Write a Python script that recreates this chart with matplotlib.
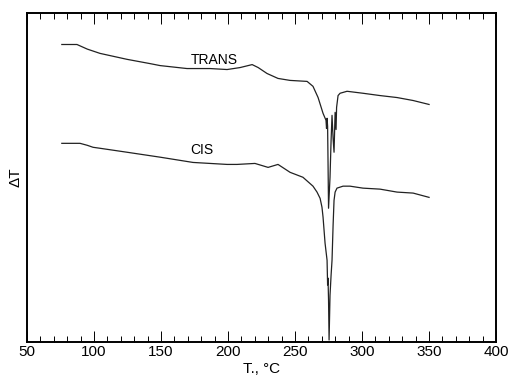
import matplotlib.pyplot as plt
from matplotlib.ticker import MultipleLocator

plt.rcParams["font.family"] = ["Liberation Sans", "DejaVu Sans"]

# DTA traces, temperature in degC, delta T in arbitrary units
trans_t = [76, 87.3, 95, 104.5, 124.6, 141.8, 149.3, 169.4, 186.6, 199.3, 209.0,
           218.0, 222.5, 229.1, 237.3, 246.3, 259.0, 263.4, 267.2, 270.9, 273.1,
           273.5, 273.9, 274.3, 274.6, 275.0, 276.1, 276.9, 277.6, 278.4, 279.1,
           279.9, 280.6, 281.0, 282.1, 283.6, 288.8, 300.7, 313.4, 326.1, 338.1,
           350]
trans_dt = [90.3, 90.3, 88.9, 87.6, 85.8, 84.5, 83.9, 83.0, 83.0, 82.7, 83.3,
            84.2, 83.3, 81.5, 80.0, 79.4, 79.1, 77.6, 74.2, 69.4, 67.3,
            64.8, 67.9, 65.5, 55.2, 40.6, 50.0, 61.2, 68.8, 61.8, 57.6,
            69.7, 64.5, 71.2, 74.8, 75.5, 76.1, 75.5, 74.8, 74.2, 73.3,
            72.1]

cis_t = [76, 89.6, 95, 99.3, 104.5, 124.6, 149.3, 173.9, 199.3, 206.7, 220.1,
         229.9, 237.3, 246.3, 255.9, 263.4, 266.4, 268.7, 270.1, 270.9, 272.4,
         273.9, 274.3, 274.6, 275.0, 275.4, 276.1, 276.9, 277.6, 278.4, 279.1,
         279.9, 281.3, 285.8, 291.0, 300.7, 313.4, 326.1, 338.1, 350]
cis_dt = [60.3, 60.3, 59.7, 59.1, 58.8, 57.6, 56.1, 54.5, 53.9, 53.9, 54.2,
          53.0, 53.9, 51.5, 50.0, 47.3, 45.5, 43.6, 40.9, 37.9, 30.0,
          24.8, 17.3, 19.4, 12.7, 0.6, 14.2, 20.3, 24.8, 35.5, 43.0,
          45.5, 46.7, 47.3, 47.3, 46.7, 46.4, 45.5, 45.2, 43.9]

fig = plt.figure(figsize=(5.11, 3.8), dpi=100)
ax = fig.add_axes([0.0528, 0.1, 0.918, 0.867])

ax.plot(trans_t, trans_dt, color="#222222", lw=0.9)
ax.plot(cis_t, cis_dt, color="#222222", lw=0.9)

ax.text(172, 85.5, "TRANS", fontsize=10, ha="left", va="center")
ax.text(172, 58.2, "CIS", fontsize=10, ha="left", va="center")

ax.set_xlim(50, 400)
ax.set_ylim(0, 100)
ax.xaxis.set_major_locator(MultipleLocator(50))
ax.xaxis.set_minor_locator(MultipleLocator(10))
ax.set_yticks([])
ax.tick_params(axis="x", which="both", direction="in", top=True,
               labelsize=11, pad=2, width=0.7)
ax.tick_params(axis="x", which="major", length=8)
ax.tick_params(axis="x", which="minor", length=4.5)
for s in ax.spines.values():
    s.set_linewidth(1.4)

ax.set_xlabel("T., °C", fontsize=11, labelpad=2)
ax.set_ylabel("ΔT", fontsize=11, labelpad=3)

plt.savefig("out.png", dpi=100)
